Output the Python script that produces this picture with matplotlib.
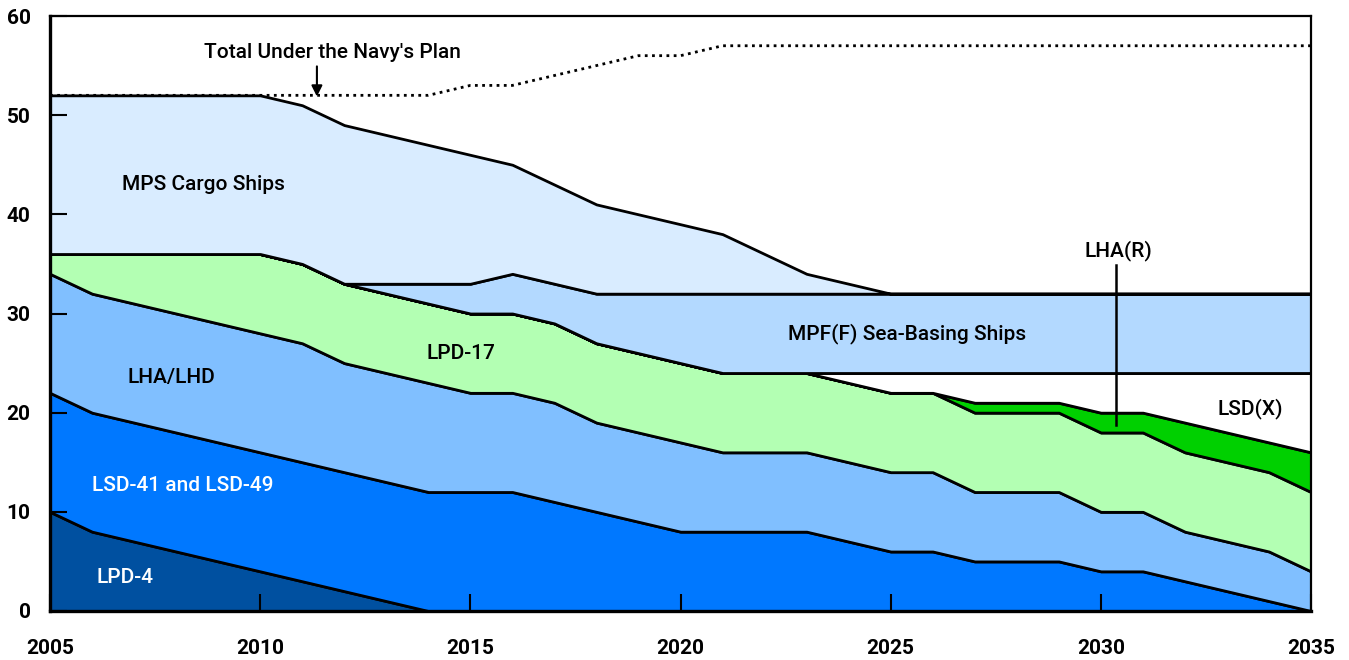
import numpy as np
import matplotlib
matplotlib.use('Agg')
import matplotlib.pyplot as plt

# Amphibious / sea-basing ship inventory by year (number of ships per class)
years = list(range(2005, 2036))

lpd4 = [10, 8, 7, 6, 5, 4, 3, 2, 1, 0,
        0, 0, 0, 0, 0, 0, 0, 0, 0, 0,
        0, 0, 0, 0, 0, 0, 0, 0, 0, 0, 0]
lsd41_49 = [12, 12, 12, 12, 12, 12, 12, 12, 12, 12,
            12, 12, 11, 10, 9, 8, 8, 8, 8, 7,
            6, 6, 5, 5, 5, 4, 4, 3, 2, 1, 0]
lha_lhd = [12, 12, 12, 12, 12, 12, 12, 11, 11, 11,
           10, 10, 10, 9, 9, 9, 8, 8, 8, 8,
           8, 8, 7, 7, 7, 6, 6, 5, 5, 5, 4]
lpd17 = [2, 4, 5, 6, 7, 8, 8, 8, 8, 8,
         8, 8, 8, 8, 8, 8, 8, 8, 8, 8,
         8, 8, 8, 8, 8, 8, 8, 8, 8, 8, 8]
lha_r = [0, 0, 0, 0, 0, 0, 0, 0, 0, 0,
         0, 0, 0, 0, 0, 0, 0, 0, 0, 0,
         0, 0, 1, 1, 1, 2, 2, 3, 3, 3, 4]
lsd_x = [0, 0, 0, 0, 0, 0, 0, 0, 0, 0,
         0, 0, 0, 0, 0, 0, 0, 0, 0, 1,
         2, 2, 3, 3, 3, 4, 4, 5, 6, 7, 8]
mpf_f = [0, 0, 0, 0, 0, 0, 0, 0, 1, 2,
         3, 4, 4, 5, 6, 7, 8, 8, 8, 8,
         8, 8, 8, 8, 8, 8, 8, 8, 8, 8, 8]
mps_cargo = [16, 16, 16, 16, 16, 16, 16, 16, 15, 14,
             13, 11, 10, 9, 8, 7, 6, 4, 2, 1,
             0, 0, 0, 0, 0, 0, 0, 0, 0, 0, 0]
total_navy_plan = [52, 52, 52, 52, 52, 52, 52, 52, 52, 52,
                   53, 53, 54, 55, 56, 56, 57, 57, 57, 57,
                   57, 57, 57, 57, 57, 57, 57, 57, 57, 57, 57]

layer_colors = ['#0050a0', '#0078ff', '#80bfff', '#b3ffb3',
                '#00d000', '#ffffff', '#b3d9ff', '#d9ecff']

plt.rcParams['font.family'] = ['Roboto', 'DejaVu Sans']

fig = plt.figure(figsize=(13.49, 6.6), dpi=100)
ax = fig.add_axes([50 / 1349, 49 / 660, 1261 / 1349, 595 / 660])

ax.stackplot(years, lpd4, lsd41_49, lha_lhd, lpd17, lha_r, lsd_x, mpf_f, mps_cargo,
             colors=layer_colors, edgecolor='black', linewidth=2.0)
ax.plot(years, total_navy_plan, color='black', lw=2.0, ls=(0, (1, 1.6)))

ax.set_xlim(2005, 2035)
ax.set_ylim(0, 60)
ax.set_xticks([2005, 2010, 2015, 2020, 2025, 2030, 2035])
ax.set_yticks([0, 10, 20, 30, 40, 50, 60])
ax.tick_params(axis='both', direction='in', labelsize=15, width=1.5, color='black')
ax.tick_params(axis='y', length=12, pad=14)
ax.tick_params(axis='x', length=12, pad=20)
for lbl in ax.get_xticklabels() + ax.get_yticklabels():
    lbl.set_fontweight('bold')

for side in ['left', 'bottom']:
    ax.spines[side].set_linewidth(2.4)
for side in ['top', 'right']:
    ax.spines[side].set_linewidth(1.6)

fs = 15
fw = 'medium'
ax.text(2011.73, 56.3, "Total Under the Navy's Plan", ha='center', va='center', fontsize=fs, fontweight=fw)
ax.annotate('', xy=(2011.35, 51.6), xytext=(2011.35, 55.2),
            arrowprops=dict(arrowstyle='-|>', color='black', lw=1.5, mutation_scale=16))
ax.text(2008.64, 43.0, 'MPS Cargo Ships', ha='center', va='center', fontsize=fs, fontweight=fw)
ax.text(2014.78, 26.0, 'LPD-17', ha='center', va='center', fontsize=fs, fontweight=fw)
ax.text(2025.39, 28.0, 'MPF(F) Sea-Basing Ships', ha='center', va='center', fontsize=fs, fontweight=fw)
ax.text(2030.43, 36.3, 'LHA(R)', ha='center', va='center', fontsize=fs, fontweight=fw)
ax.plot([2030.36, 2030.36], [34.9, 18.8], color='black', lw=1.8)
ax.text(2033.55, 20.4, 'LSD(X)', ha='center', va='center', fontsize=fs, fontweight=fw)
ax.text(2007.88, 23.5, 'LHA/LHD', ha='center', va='center', fontsize=fs, fontweight=fw)
ax.text(2008.16, 12.7, 'LSD-41 and LSD-49', ha='center', va='center', fontsize=fs,
        fontweight=fw, color='white')
ax.text(2006.78, 3.4, 'LPD-4', ha='center', va='center', fontsize=fs, fontweight=fw, color='white')

fig.savefig('out.png', dpi=100)
